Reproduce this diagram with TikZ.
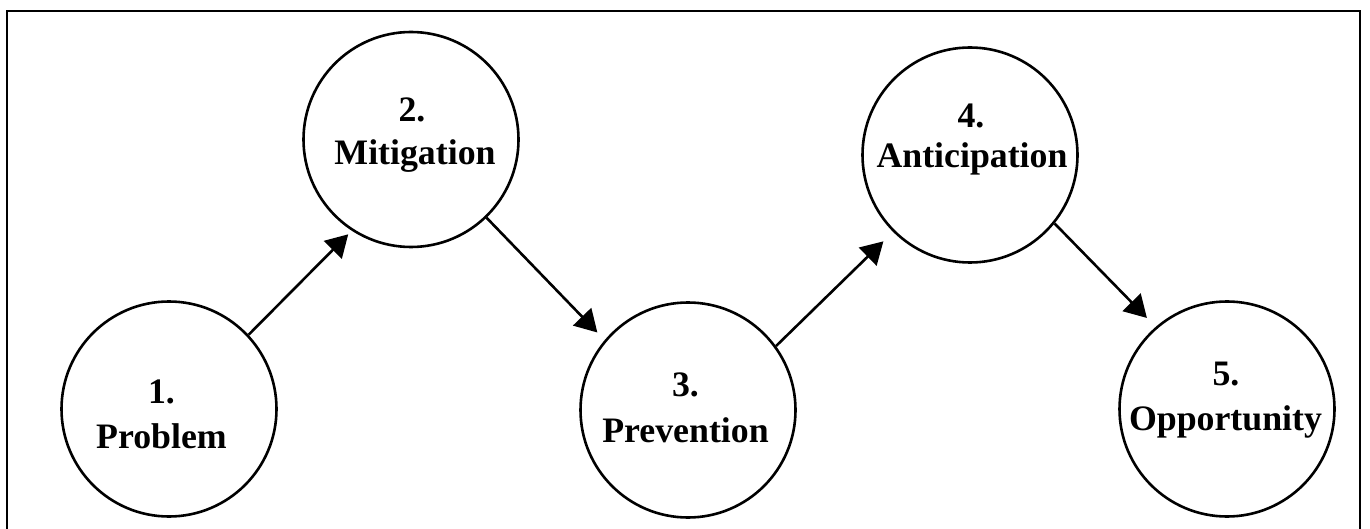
\documentclass[tikz,border=0pt]{standalone}
\usepackage{fontspec}
\setmainfont{Liberation Serif}
\usetikzlibrary{arrows.meta}
\begin{document}
\begin{tikzpicture}[x=1pt,y=-1pt,
  stage/.style={circle,draw,line width=2.6pt,minimum size=215pt,inner sep=0pt},
  lbl/.style={anchor=base,inner sep=0pt,font=\fontsize{35.8}{43}\selectfont\bfseries},
  flow/.style={line width=2.6pt,-{Triangle[length=22pt,width=25pt]}},
  frame/.style={line width=2.6pt}]
\useasboundingbox (0,0) rectangle (1370,529);
\draw[frame] (7,11) rectangle (1360,560);

\node[stage] (c1) at (169,409) {};
\node[stage] (c2) at (411,139.5) {};
\node[stage] (c3) at (688,410) {};
\node[stage] (c4) at (970,155) {};
\node[stage] (c5) at (1227,409) {};

\node[lbl] (n1) at (161.5,403) {1.};
\node[lbl] (w1) at (161.5,448) {Problem};
\node[lbl] (n2) at (412,122) {2.};
\node[lbl] (w2) at (415,165) {Mitigation};
\node[lbl] (n3) at (685.5,396) {3.};
\node[lbl] (w3) at (685.5,442) {Prevention};
\node[lbl] (n4) at (971,128) {4.};
\node[lbl] (w4) at (972,168) {Anticipation};
\node[lbl] (n5) at (1226,385) {5.};
\node[lbl] (w5) at (1225.5,430) {Opportunity};

\draw[flow,shorten >=5pt] (c1.43) -- (c2.237);
\draw[flow,shorten >=10.5pt] (c2.-46) -- (c3.140);
\draw[flow,shorten >=13.5pt] (c3.36) -- (c4.225);
\draw[flow,shorten >=12.5pt] (c4.-39) -- (c5.131);
\end{tikzpicture}
\end{document}
